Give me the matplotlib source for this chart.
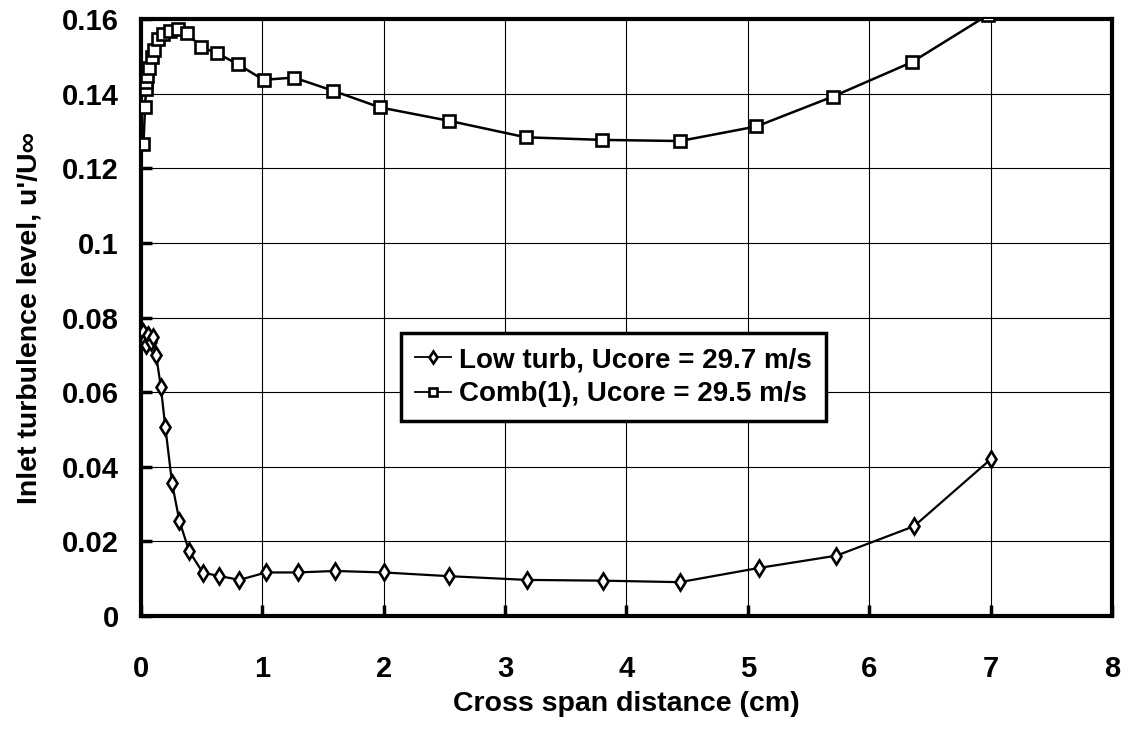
import matplotlib
matplotlib.use("Agg")
import matplotlib.pyplot as plt
from matplotlib import font_manager

# ---- data ----
low_x = [0.02, 0.03, 0.04, 0.06, 0.08, 0.10, 0.124, 0.163, 0.20, 0.256, 0.316, 0.397,
         0.51, 0.64, 0.81, 1.03, 1.29, 1.60, 2.00, 2.54, 3.18, 3.81, 4.44, 5.09, 5.73, 6.37, 7.00]
low_y = [0.0762, 0.0740, 0.0727, 0.0753, 0.0735, 0.0749, 0.0700, 0.0615, 0.0507, 0.0356, 0.0255, 0.0174,
         0.0116, 0.0108, 0.0097, 0.0117, 0.0117, 0.0121, 0.0117, 0.0107, 0.0097, 0.0095, 0.0091, 0.0129,
         0.0162, 0.0241, 0.0420]

comb_x = [0.02, 0.033, 0.041, 0.045, 0.052, 0.069, 0.088, 0.11, 0.143, 0.179, 0.24, 0.308, 0.382,
          0.495, 0.625, 0.795, 1.01, 1.26, 1.58, 1.97, 2.54, 3.17, 3.80, 4.44, 5.07, 5.70, 6.35, 6.98]
comb_y = [0.1265, 0.1363, 0.1412, 0.1432, 0.1448, 0.1468, 0.1498, 0.1517, 0.1546, 0.1560, 0.1569, 0.1574,
          0.1562, 0.1524, 0.1509, 0.1479, 0.1437, 0.1443, 0.1408, 0.1363, 0.1327, 0.1283, 0.1276, 0.1273,
          0.1312, 0.1392, 0.1484, 0.1611]

labels = ["Low turb, Ucore = 29.7 m/s", "Comb(1), Ucore = 29.5 m/s"]
x_ticks = [0, 1, 2, 3, 4, 5, 6, 7, 8]
y_ticks = [0, 0.02, 0.04, 0.06, 0.08, 0.1, 0.12, 0.14, 0.16]
y_ticklabels = ["0", "0.02", "0.04", "0.06", "0.08", "0.1", "0.12", "0.14", "0.16"]
xlabel = "Cross span distance (cm)"
ylabel = "Inlet turbulence level, u'/U\u221e"

# fonts
names = {f.name for f in font_manager.fontManager.ttflist}
narrow = "Liberation Sans Narrow" if "Liberation Sans Narrow" in names else "Liberation Sans"

fig = plt.figure(figsize=(11.3, 7.3), dpi=100)
ax = fig.add_axes([0.1248, 0.156, 0.8592, 0.818])

ax.plot(low_x, low_y, color="black", lw=1.6, marker="d", markersize=8.5,
        markerfacecolor="white", markeredgecolor="black", markeredgewidth=1.9,
        label=labels[0], clip_on=True, zorder=3)
ax.plot(comb_x, comb_y, color="black", lw=1.8, marker="s", markersize=9,
        markerfacecolor="white", markeredgecolor="black", markeredgewidth=1.9,
        label=labels[1], clip_on=True, zorder=3)

ax.set_xlim(0, 8)
ax.set_ylim(0, 0.16)
ax.set_xticks(x_ticks)
ax.set_yticks(y_ticks)
ax.set_yticklabels(y_ticklabels)
ax.grid(True, color="black", lw=0.8)
ax.set_axisbelow(True)

for s in ax.spines.values():
    s.set_linewidth(3)
    s.set_color("black")

ax.tick_params(axis="both", direction="in", length=8, width=2.5, colors="black")
ax.tick_params(axis="x", pad=28)
ax.tick_params(axis="y", pad=16)
for lab in ax.get_xticklabels() + ax.get_yticklabels():
    lab.set_fontfamily("Liberation Sans")
    lab.set_fontweight("bold")
    lab.set_fontsize(21)

ax.set_xlabel(xlabel, fontsize=20.5, fontweight="bold", family=narrow, labelpad=6)
ax.set_ylabel(ylabel, fontsize=20.5, fontweight="bold", family=[narrow, "DejaVu Sans"], labelpad=14)

leg = ax.legend(loc="upper left", bbox_to_anchor=(0.2535, 0.497), frameon=True, fancybox=False,
                handlelength=1.3, handletextpad=0.3, borderpad=0.5, labelspacing=0.3,
                prop={"family": narrow, "weight": "bold", "size": 20})
leg.get_frame().set_edgecolor("black")
leg.get_frame().set_linewidth(2.5)
leg.get_frame().set_alpha(1)
for h in leg.legend_handles:
    h.set_markersize(6)
    h.set_linewidth(1.3)

fig.savefig("out.png", dpi=100, facecolor="white")
